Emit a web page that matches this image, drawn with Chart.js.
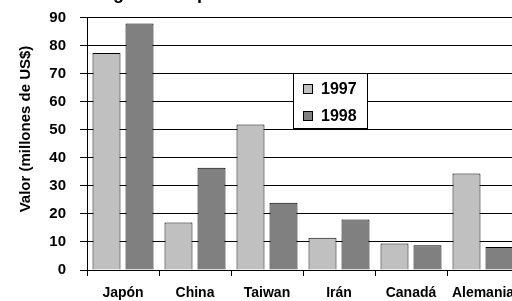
<!DOCTYPE html>
<html>
<head>
<meta charset="utf-8">
<script src="https://cdn.jsdelivr.net/npm/chart.js@4.4.0/dist/chart.umd.min.js"></script>
<style>
  html, body { margin: 0; padding: 0; background: #fff; overflow: hidden; }
  #wrap { position: relative; width: 530px; height: 310px; }
</style>
</head>
<body>
<div id="wrap"><canvas id="chart"></canvas></div>
<script>
// valores (millones de US$)
const paises = ['Japón', 'China', 'Taiwan', 'Irán', 'Canadá', 'Alemania'];
const anios = ['1997', '1998'];
const valores1997 = [77.5, 17, 52, 11.5, 9.5, 34.5];
const valores1998 = [88, 36.5, 24, 18, 8.8, 8.2];
const colores = ['#c0c0c0', '#808080'];

const FONT = '"Liberation Sans", Arial, sans-serif';

// titulo (casi todo fuera del lienzo), eje Y y leyenda dibujados a mano
const extras = {
  id: 'extras',
  afterDraw(chart) {
    const ctx = chart.ctx;
    ctx.save();
    ctx.fillStyle = '#000';
    ctx.font = 'bold 18px ' + FONT;
    ctx.textAlign = 'left';
    ctx.textBaseline = 'alphabetic';
    ctx.fillText('Origen de importaciones', 87, -1);

    ctx.save();
    ctx.translate(26, 129);
    ctx.rotate(-Math.PI / 2);
    ctx.font = 'bold 15px ' + FONT;
    ctx.textAlign = 'center';
    ctx.textBaseline = 'middle';
    ctx.fillText('Valor (millones de US$)', 0, 0);
    ctx.restore();

    // leyenda
    ctx.fillStyle = '#fff';
    ctx.fillRect(293.5, 73.5, 74, 55);
    ctx.strokeStyle = '#000';
    ctx.lineWidth = 1;
    ctx.strokeRect(293.5, 73.5, 74, 55);
    const filas = [89, 116];
    chart.data.datasets.forEach((ds, i) => {
      ctx.fillStyle = ds.backgroundColor;
      ctx.fillRect(304, filas[i] - 4, 8, 8);
      ctx.strokeStyle = '#000';
      ctx.strokeRect(303.5, filas[i] - 4.5, 9, 9);
      ctx.fillStyle = '#000';
      ctx.font = 'bold 16px ' + FONT;
      ctx.textAlign = 'left';
      ctx.textBaseline = 'middle';
      ctx.fillText(ds.label, 321, filas[i] + 1);
    });
    ctx.restore();
  }
};

new Chart(document.getElementById('chart'), {
  type: 'bar',
  data: {
    labels: paises,
    datasets: [
      { label: anios[0], data: valores1997, backgroundColor: colores[0], borderColor: '#000', borderWidth: 1 },
      { label: anios[1], data: valores1998, backgroundColor: colores[1], borderColor: '#000', borderWidth: 1 }
    ]
  },
  options: {
    responsive: true,
    maintainAspectRatio: false,
    animation: false,
    categoryPercentage: 0.917,
    barPercentage: 0.848,
    layout: { padding: { top: 0, right: 11, left: 0, bottom: 0 } },
    plugins: {
      legend: { display: false },
      tooltip: { enabled: false }
    },
    scales: {
      x: {
        grid: { display: true, drawOnChartArea: false, color: '#000', lineWidth: 1, tickLength: 6, offset: true },
        border: { display: true, color: '#000', width: 1 },
        ticks: {
          color: '#000', padding: 9, maxRotation: 0, minRotation: 0, autoSkip: false,
          font: { family: FONT, size: 14, weight: 'bold' }
        },
        afterFit(scale) { scale.height = 40; }
      },
      y: {
        min: 0, max: 90,
        grid: { display: true, drawOnChartArea: true, drawTicks: true, color: '#000', lineWidth: 1, tickLength: 7 },
        border: { display: true, color: '#000', width: 1 },
        ticks: { stepSize: 10, color: '#000', padding: 14, font: { family: FONT, size: 15, weight: 'bold', lineHeight: 0.53 } },
        afterFit(scale) { scale.width = 87; }
      }
    }
  },
  plugins: [extras]
});
</script>
</body>
</html>
